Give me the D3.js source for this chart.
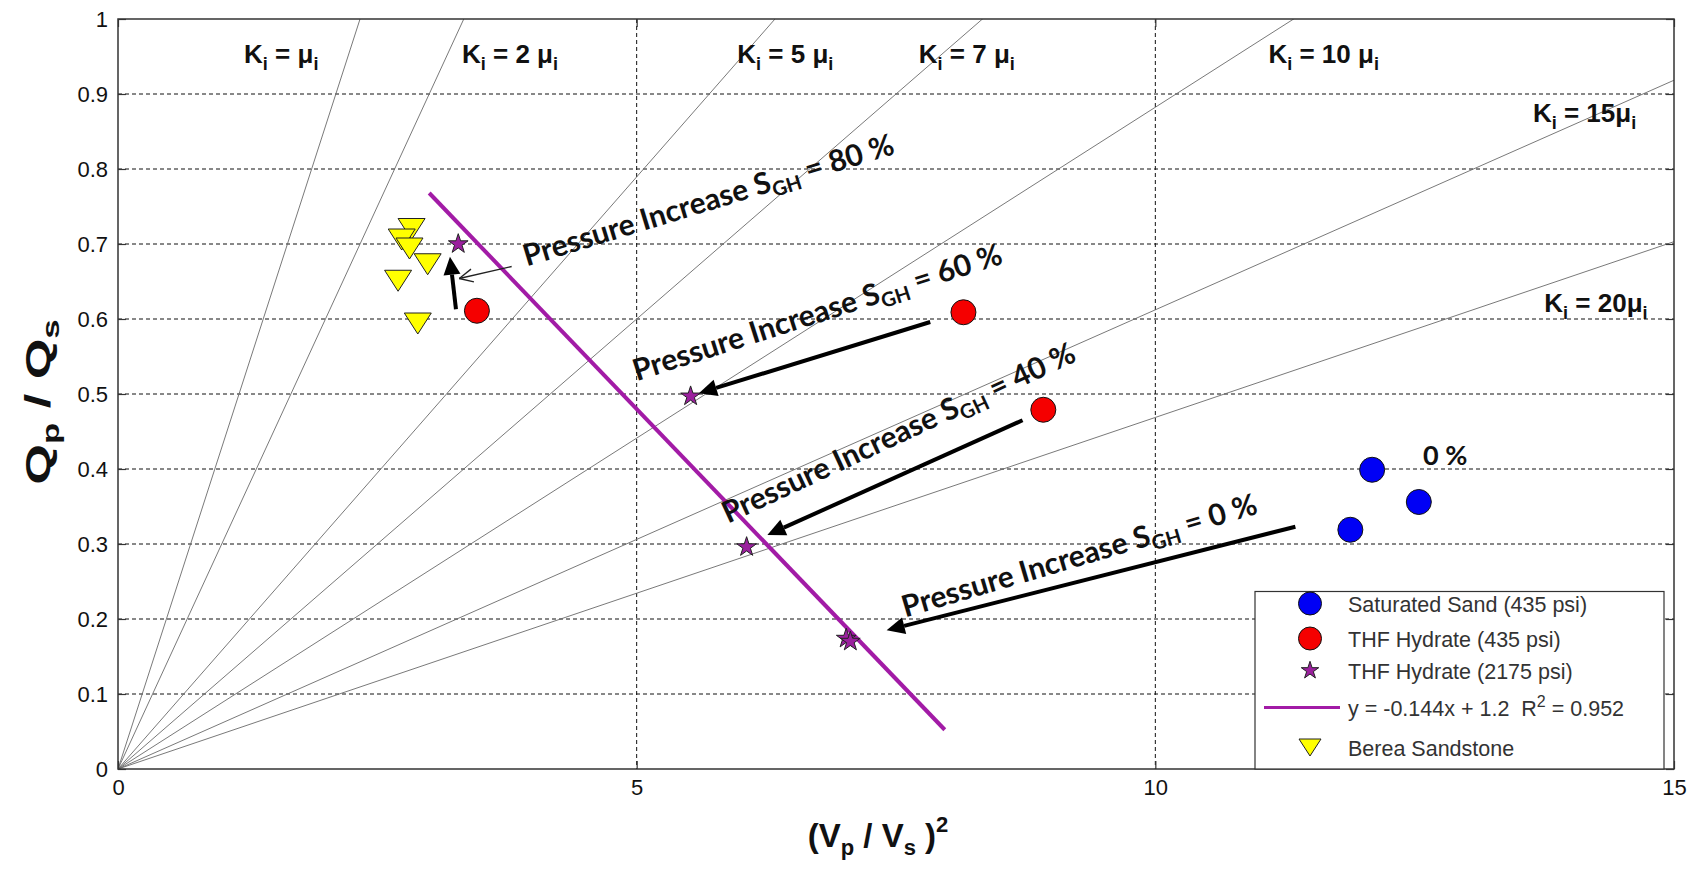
<!DOCTYPE html>
<html>
<head>
<meta charset="utf-8">
<script src="https://cdn.jsdelivr.net/npm/d3@7"></script>
<style>
  body { margin: 0; background: #fff; }
  text { font-family: "Liberation Sans", Arial, sans-serif; }
</style>
</head>
<body>
<svg id="chart" width="1699" height="869"></svg>
<script>
// ---- data ----
const kRatios = [1, 2, 5, 7, 10, 15, 20];              // K_i = n * mu_i reference lines
const kLabelX = [1.215, 3.316, 5.97, 7.72, 11.09, 13.64, 13.75];
const kLabelY = [0.941, 0.941, 0.941, 0.941, 0.941, 0.863, 0.609];
const kLabelNum = ["", "2 ", "5 ", "7 ", "10 ", "15", "20"];

const sandX = [12.09, 12.54, 11.88];
const sandY = [0.399, 0.356, 0.319];
const thf435X = [3.46, 8.15, 8.92];
const thf435Y = [0.611, 0.609, 0.479];
const thf2175X = [3.28, 5.52, 6.06, 7.02, 7.06];
const thf2175Y = [0.700, 0.497, 0.296, 0.174, 0.170];
const bereaX = [2.83, 2.735, 2.81, 2.985, 2.70, 2.89];
const bereaY = [0.720, 0.706, 0.694, 0.673, 0.651, 0.594];

const fitSlope = -0.144, fitIntercept = 1.2, fitR2 = 0.952;
const fitRange = [3.0, 7.97];

const xTicks = [0, 5, 10, 15];
const xTickLabels = ["0", "5", "10", "15"];
const yTicks = [0, 0.1, 0.2, 0.3, 0.4, 0.5, 0.6, 0.7, 0.8, 0.9, 1];
const yTickLabels = ["0", "0.1", "0.2", "0.3", "0.4", "0.5", "0.6", "0.7", "0.8", "0.9", "1"];
const gridX = [5, 10];
const gridY = [0.1, 0.2, 0.3, 0.4, 0.5, 0.6, 0.7, 0.8, 0.9];

// "Pressure Increase" annotations
const pressureSgh = ["80 %", "60 %", "40 %", "0 %"];
const pressureX = [3.94, 5.00, 5.88, 7.59];
const pressureY = [0.670, 0.517, 0.327, 0.202];
const pressureAngle = [-17.0, -17.8, -25.0, -16.4];

// arrows: from (x0,y0) to tip (x1,y1)
const arrowX0 = [3.258, 7.83, 8.72, 11.35];
const arrowY0 = [0.613, 0.596, 0.465, 0.323];
const arrowX1 = [3.20, 5.60, 6.26, 7.41];
const arrowY1 = [0.683, 0.501, 0.312, 0.185];
const thinArrow = [[3.795, 0.670], [3.29, 0.654]];

const legendLabels = ["Saturated Sand (435 psi)", "THF Hydrate (435 psi)", "THF Hydrate (2175 psi)",
                      "fit", "Berea Sandstone"];

// ---- layout ----
const svg = d3.select("#chart");
const margin = { left: 118, top: 19 };
const W = 1556, H = 750;
const x = d3.scaleLinear().domain([0, 15]).range([0, W]);
const y = d3.scaleLinear().domain([0, 1]).range([H, 0]);

svg.append("defs").append("clipPath").attr("id", "plotclip")
  .append("rect").attr("width", W).attr("height", H);

const g = svg.append("g").attr("transform", `translate(${margin.left},${margin.top})`);
const plot = g.append("g").attr("clip-path", "url(#plotclip)");

// grid
plot.selectAll("line.gy").data(gridY).join("line")
  .attr("x1", 0).attr("x2", W).attr("y1", d => y(d)).attr("y2", d => y(d))
  .attr("stroke", "#111").attr("stroke-width", 1).attr("stroke-dasharray", "4,3");
plot.selectAll("line.gx").data(gridX).join("line")
  .attr("y1", 0).attr("y2", H).attr("x1", d => x(d)).attr("x2", d => x(d))
  .attr("stroke", "#111").attr("stroke-width", 1).attr("stroke-dasharray", "4,3");

// K_i = n mu_i lines: y = x / (n + 4/3)
plot.selectAll("line.k").data(kRatios).join("line")
  .attr("x1", x(0)).attr("y1", y(0))
  .attr("x2", x(15)).attr("y2", n => y(15 / (n + 4 / 3)))
  .attr("stroke", "#6a6a6a").attr("stroke-width", 0.9);

// K labels
kRatios.forEach((n, i) => {
  const t = g.append("text")
    .attr("x", x(kLabelX[i])).attr("y", y(kLabelY[i]))
    .attr("font-size", 26).attr("font-weight", "bold").attr("fill", "#111")
    .style("font-family", "'Liberation Sans Narrow', 'Liberation Sans', sans-serif");
  t.append("tspan").text("K");
  t.append("tspan").attr("dy", 7).attr("font-size", 18).text("i");
  t.append("tspan").attr("dy", -7).text(" = " + kLabelNum[i] + "\u03bc");
  t.append("tspan").attr("dy", 7).attr("font-size", 18).text("i");
});

// fit line
plot.append("line")
  .attr("x1", x(fitRange[0])).attr("y1", y(fitSlope * fitRange[0] + fitIntercept))
  .attr("x2", x(fitRange[1])).attr("y2", y(fitSlope * fitRange[1] + fitIntercept))
  .attr("stroke", "#a21ba6").attr("stroke-width", 4);

// arrows
function drawArrow(sel, x0, y0, x1, y1, width, headLen, headW) {
  const ang = Math.atan2(y1 - y0, x1 - x0);
  const bx = x1 - headLen * Math.cos(ang), by = y1 - headLen * Math.sin(ang);
  sel.append("line").attr("x1", x0).attr("y1", y0).attr("x2", bx).attr("y2", by)
    .attr("stroke", "#000").attr("stroke-width", width);
  const px = -Math.sin(ang) * headW / 2, py = Math.cos(ang) * headW / 2;
  sel.append("path")
    .attr("d", `M${x1},${y1}L${bx + px},${by + py}L${bx - px},${by - py}Z`)
    .attr("fill", "#000");
}
arrowX0.forEach((_, i) => {
  drawArrow(g, x(arrowX0[i]), y(arrowY0[i]), x(arrowX1[i]), y(arrowY1[i]), 4, 18, 17);
});
{
  const x0 = x(thinArrow[0][0]), y0 = y(thinArrow[0][1]);
  const x1 = x(thinArrow[1][0]), y1 = y(thinArrow[1][1]);
  const ang = Math.atan2(y1 - y0, x1 - x0);
  g.append("line").attr("x1", x0).attr("y1", y0).attr("x2", x1).attr("y2", y1)
    .attr("stroke", "#222").attr("stroke-width", 1.3);
  [0.45, -0.45].forEach(a => {
    g.append("line").attr("x1", x1).attr("y1", y1)
      .attr("x2", x1 - 15 * Math.cos(ang + a)).attr("y2", y1 - 15 * Math.sin(ang + a))
      .attr("stroke", "#222").attr("stroke-width", 1.3);
  });
}

// pressure annotations
pressureSgh.forEach((s, i) => {
  const t = g.append("text")
    .attr("transform", `translate(${x(pressureX[i])},${y(pressureY[i])}) rotate(${pressureAngle[i]})`)
    .attr("font-size", 30).attr("font-weight", "bold").attr("fill", "#111")
    .style("font-family", "Lato, 'Open Sans', sans-serif");
  t.append("tspan").text("Pressure Increase S");
  t.append("tspan").attr("dy", 6).attr("font-size", 20).text("GH");
  t.append("tspan").attr("dy", -6).text(" = " + s);
});
g.append("text").attr("x", x(12.58)).attr("y", y(0.405))
  .attr("font-size", 27).attr("font-weight", "bold").attr("fill", "#111")
  .style("font-family", "Lato, 'Open Sans', sans-serif").text("0 %");

// markers
const triPath = "M-13.5,-10.5L13.5,-10.5L0,10.5Z";
const star = d3.symbol().type(d3.symbolStar).size(120);

plot.selectAll("path.tri").data(d3.range(bereaX.length)).join("path")
  .attr("transform", i => `translate(${x(bereaX[i])},${y(bereaY[i])})`)
  .attr("d", triPath).attr("fill", "#ffff00").attr("stroke", "#222").attr("stroke-width", 1);

plot.selectAll("circle.sand").data(d3.range(sandX.length)).join("circle")
  .attr("cx", i => x(sandX[i])).attr("cy", i => y(sandY[i])).attr("r", 12.5)
  .attr("fill", "#0000f5").attr("stroke", "#111").attr("stroke-width", 1);

plot.selectAll("circle.thf").data(d3.range(thf435X.length)).join("circle")
  .attr("cx", i => x(thf435X[i])).attr("cy", i => y(thf435Y[i])).attr("r", 12.5)
  .attr("fill", "#f50000").attr("stroke", "#111").attr("stroke-width", 1);

plot.selectAll("path.star").data(d3.range(thf2175X.length)).join("path")
  .attr("transform", i => `translate(${x(thf2175X[i])},${y(thf2175Y[i])})`)
  .attr("d", star).attr("fill", "#9b209e").attr("stroke", "#222").attr("stroke-width", 1);

// axes frame with inner ticks
g.append("rect").attr("width", W).attr("height", H)
  .attr("fill", "none").attr("stroke", "#333").attr("stroke-width", 1.5);

const axB = g.append("g").attr("transform", `translate(0,${H})`)
  .call(d3.axisBottom(x).tickValues(xTicks).tickFormat((d, i) => xTickLabels[i])
    .tickSize(-8).tickPadding(10));
const axL = g.append("g")
  .call(d3.axisLeft(y).tickValues(yTicks).tickFormat((d, i) => yTickLabels[i])
    .tickSize(-8).tickPadding(10));
const axT = g.append("g").call(d3.axisTop(x).tickValues(xTicks).tickFormat("").tickSize(-8));
const axR = g.append("g").attr("transform", `translate(${W},0)`)
  .call(d3.axisRight(y).tickValues(yTicks).tickFormat("").tickSize(-8));
[axB, axL, axT, axR].forEach(a => {
  a.select(".domain").remove();
  a.selectAll("line").attr("stroke", "#333").attr("stroke-width", 1.2);
  a.selectAll("text").attr("font-size", 22).attr("fill", "#111")
    .style("font-family", "'Liberation Sans', Arial, sans-serif");
});

// axis titles
{
  const t = svg.append("text").attr("x", 878).attr("y", 847).attr("text-anchor", "middle")
    .attr("font-size", 33).attr("font-weight", "bold").attr("fill", "#111")
    .style("font-family", "'Liberation Sans Narrow', 'Liberation Sans', sans-serif");
  t.append("tspan").text("(V");
  t.append("tspan").attr("dy", 8).attr("font-size", 22).text("p");
  t.append("tspan").attr("dy", -8).text(" / V");
  t.append("tspan").attr("dy", 8).attr("font-size", 22).text("s");
  t.append("tspan").attr("dy", -8).text(" )");
  t.append("tspan").attr("dy", -15).attr("font-size", 22).text("2");
}
{
  // vertical title, stretched along its reading direction
  const t = svg.append("text").attr("transform", "translate(50,402) rotate(-90) scale(1.45,1)")
    .attr("text-anchor", "middle")
    .attr("font-size", 36).attr("font-weight", "bold").attr("fill", "#111")
    .style("font-family", "'Liberation Sans Narrow', 'Liberation Sans', sans-serif");
  t.append("tspan").text("Q");
  t.append("tspan").attr("dy", 9).attr("font-size", 24).text("p");
  t.append("tspan").attr("dy", -9).text(" / Q");
  t.append("tspan").attr("dy", 9).attr("font-size", 24).text("s");
}

// legend
const lg = g.append("g").attr("transform", `translate(${1255 - margin.left},${591.5 - margin.top})`);
const lgW = 1664 - 1255, lgH = 769 - 591.5;
lg.append("rect").attr("width", lgW).attr("height", lgH)
  .attr("fill", "#fff").attr("stroke", "#333").attr("stroke-width", 1.2);
const rowY = [12, 47, 79, 116, 156];
const mx = 55;
lg.append("circle").attr("cx", mx).attr("cy", rowY[0]).attr("r", 11.5)
  .attr("fill", "#0000f5").attr("stroke", "#111");
lg.append("circle").attr("cx", mx).attr("cy", rowY[1]).attr("r", 11.5)
  .attr("fill", "#f50000").attr("stroke", "#111");
lg.append("path").attr("transform", `translate(${mx},${rowY[2]})`)
  .attr("d", d3.symbol().type(d3.symbolStar).size(95)).attr("fill", "#9b209e").attr("stroke", "#222");
lg.append("line").attr("x1", 9).attr("x2", 85).attr("y1", rowY[3]).attr("y2", rowY[3])
  .attr("stroke", "#a21ba6").attr("stroke-width", 3);
lg.append("path").attr("transform", `translate(${mx},${rowY[4]})`)
  .attr("d", "M-11,-8.5L11,-8.5L0,8.5Z").attr("fill", "#ffff00").attr("stroke", "#222");
legendLabels.forEach((s, i) => {
  const t = lg.append("text").attr("x", 93).attr("y", rowY[i] + 8)
    .attr("font-size", 21.5).attr("fill", "#333");
  if (i === 3) {
    t.append("tspan").text(`y = ${fitSlope}x + ${fitIntercept}\u00a0\u00a0R`);
    t.append("tspan").attr("dy", -9).attr("font-size", 16).text("2");
    t.append("tspan").attr("dy", 9).text(` = ${fitR2}`);
  } else {
    t.text(s);
  }
});
</script>
</body>
</html>
